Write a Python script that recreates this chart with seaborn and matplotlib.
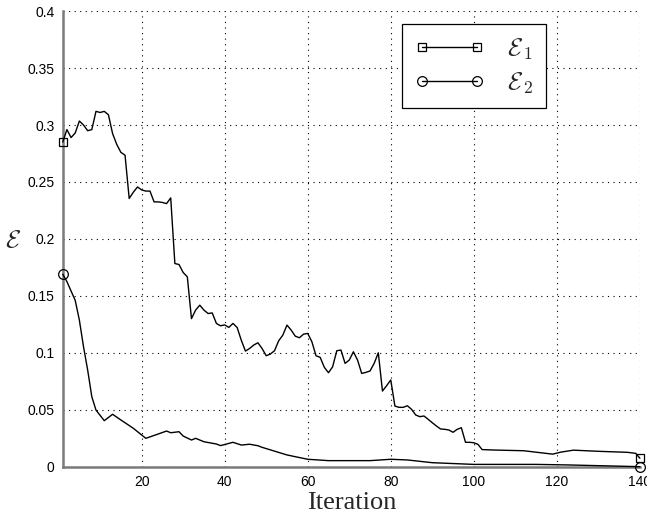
import matplotlib
matplotlib.use("Agg")
import matplotlib.pyplot as plt
from matplotlib.lines import Line2D
import seaborn as sns
import pandas as pd

# ---- data ----
iter1 = [1, 2, 3, 4, 5, 6, 7, 8, 9, 10, 11, 12, 13, 14, 15, 16, 17, 18, 19, 20,
         21, 22, 23, 24, 25, 26, 27, 28, 29, 30, 31, 32, 33, 34, 35, 36, 37, 38, 39, 40,
         41, 42, 43, 44, 45, 46, 47, 48, 49, 50, 51, 52, 53, 54, 55, 56, 57, 58, 59, 60,
         61, 62, 63, 64, 65, 66, 67, 68, 69, 70, 71, 72, 73, 74, 75, 76, 77, 78, 79, 80,
         81, 82, 83, 84, 85, 86, 87, 88, 89, 90, 91, 92, 93, 94, 95, 96, 97, 98, 99, 100,
         101, 102, 105, 112, 119, 121, 124, 127, 130, 137, 139, 140]
eps1 = [0.285, 0.296, 0.289, 0.293, 0.3035, 0.300, 0.295, 0.296, 0.312, 0.311,
        0.312, 0.309, 0.2925, 0.283, 0.276, 0.2735, 0.2355, 0.241, 0.2456, 0.243,
        0.242, 0.242, 0.2325, 0.2325, 0.232, 0.231, 0.236, 0.1784, 0.1775, 0.1705,
        0.1667, 0.130, 0.1375, 0.1418, 0.1375, 0.1345, 0.135, 0.1258, 0.1237, 0.1245,
        0.1223, 0.1258, 0.1222, 0.111, 0.1015, 0.1038, 0.1068, 0.1088, 0.1038, 0.0974,
        0.0989, 0.1018, 0.1105, 0.1155, 0.1243, 0.120, 0.1146, 0.1132, 0.1164, 0.117,
        0.1097, 0.0974, 0.096, 0.0872, 0.0825, 0.0877, 0.1018, 0.1024, 0.0907, 0.0936,
        0.1009, 0.0936, 0.0819, 0.0828, 0.084, 0.0907, 0.100, 0.0664, 0.0711, 0.0761,
        0.0532, 0.0521, 0.0521, 0.0535, 0.0504, 0.0454, 0.0439, 0.0445, 0.0416, 0.0386,
        0.0357, 0.0331, 0.0328, 0.0322, 0.0302, 0.0328, 0.0342, 0.0214, 0.0214, 0.021,
        0.0196, 0.0150, 0.0146, 0.014, 0.011, 0.0128, 0.0145, 0.014, 0.0135, 0.0126,
        0.0117, 0.0074]

iter2 = [1, 2, 4, 5, 6, 7, 8, 9, 11, 13, 15, 18, 21, 24, 26, 27, 29, 30, 32, 33,
         35, 38, 39, 42, 44, 46, 48, 49, 55, 60, 65, 75, 80, 84, 90, 100, 115, 123, 140]
eps2 = [0.169, 0.1625, 0.146, 0.1287, 0.1053, 0.0848, 0.0614, 0.0497, 0.0404, 0.046,
        0.041, 0.0337, 0.0249, 0.0287, 0.0313, 0.0298, 0.0307, 0.0269, 0.0234, 0.0249,
        0.0219, 0.0199, 0.0185, 0.0214, 0.019, 0.0197, 0.0184, 0.017, 0.0103, 0.0065,
        0.0053, 0.0053, 0.0065, 0.0059, 0.0035, 0.002, 0.002, 0.0015, 0.0]

xticks = [20, 40, 60, 80, 100, 120, 140]
yticks = [0, 0.05, 0.1, 0.15, 0.2, 0.25, 0.3, 0.35, 0.4]
ytick_labels = ["0", "0.05", "0.1", "0.15", "0.2", "0.25", "0.3", "0.35", "0.4"]
series_labels = [r"$\mathcal{E}_{\,1}$", r"$\mathcal{E}_{\,2}$"]
xlabel = "Iteration"
ylabel = r"$\mathcal{E}$"

# ---- style ----
sns.set_style("white")
plt.rcParams["font.family"] = ["Liberation Sans", "DejaVu Sans"]
plt.rcParams["mathtext.fontset"] = "cm"

fig = plt.figure(figsize=(6.47, 5.13), dpi=100)
ax = fig.add_axes([0.097, 0.0903, 0.892, 0.888])

df1 = pd.DataFrame({"it": iter1, "eps": eps1})
df2 = pd.DataFrame({"it": iter2, "eps": eps2})

sns.lineplot(data=df1, x="it", y="eps", ax=ax, color="black", linewidth=1.0,
             estimator=None, sort=False, marker="s", markersize=6,
             markerfacecolor="none", markeredgecolor="black", markeredgewidth=0.9,
             markevery=[0, len(iter1) - 1], clip_on=False, zorder=3)
sns.lineplot(data=df2, x="it", y="eps", ax=ax, color="black", linewidth=1.0,
             estimator=None, sort=False, marker="o", markersize=7,
             markerfacecolor="none", markeredgecolor="black", markeredgewidth=0.9,
             markevery=[0, len(iter2) - 1], clip_on=False, zorder=3)

ax.set_xlim(1, 140)
ax.set_ylim(0, 0.4)
ax.set_xticks(xticks)
ax.set_yticks(yticks)
ax.set_yticklabels(ytick_labels)
ax.tick_params(axis="both", direction="in", length=5, width=1, labelsize=10,
               colors="black", pad=6)

ax.grid(True, linestyle=(0, (1, 4)), color="black", linewidth=0.8)

for s in ["top", "right"]:
    ax.spines[s].set_visible(False)
for s in ["left", "bottom"]:
    ax.spines[s].set_color("#7a7a7a")
    ax.spines[s].set_linewidth(1.8)

ax.set_xlabel(xlabel, fontsize=19, family="Liberation Serif", labelpad=2)
ax.set_ylabel(ylabel, fontsize=18, rotation=0, va="center", ha="center")
ax.yaxis.set_label_coords(-0.086, 0.497)

handles = [
    Line2D([], [], color="black", linewidth=1.0, marker="s", markersize=6,
           markerfacecolor="none", markeredgewidth=0.9),
    Line2D([], [], color="black", linewidth=1.0, marker="o", markersize=7,
           markerfacecolor="none", markeredgewidth=0.9),
]
leg = ax.legend(handles, series_labels, loc="upper left",
                bbox_to_anchor=(0.5875, 0.9715), numpoints=2, fontsize=18,
                handlelength=2.8, handletextpad=0.9, borderpad=0.5,
                labelspacing=0.35, frameon=True, fancybox=False,
                borderaxespad=0.0)
leg.get_frame().set_edgecolor("black")
leg.get_frame().set_linewidth(0.9)
leg.get_frame().set_facecolor("white")
leg.get_frame().set_alpha(1.0)

fig.savefig("out.png", dpi=100)
